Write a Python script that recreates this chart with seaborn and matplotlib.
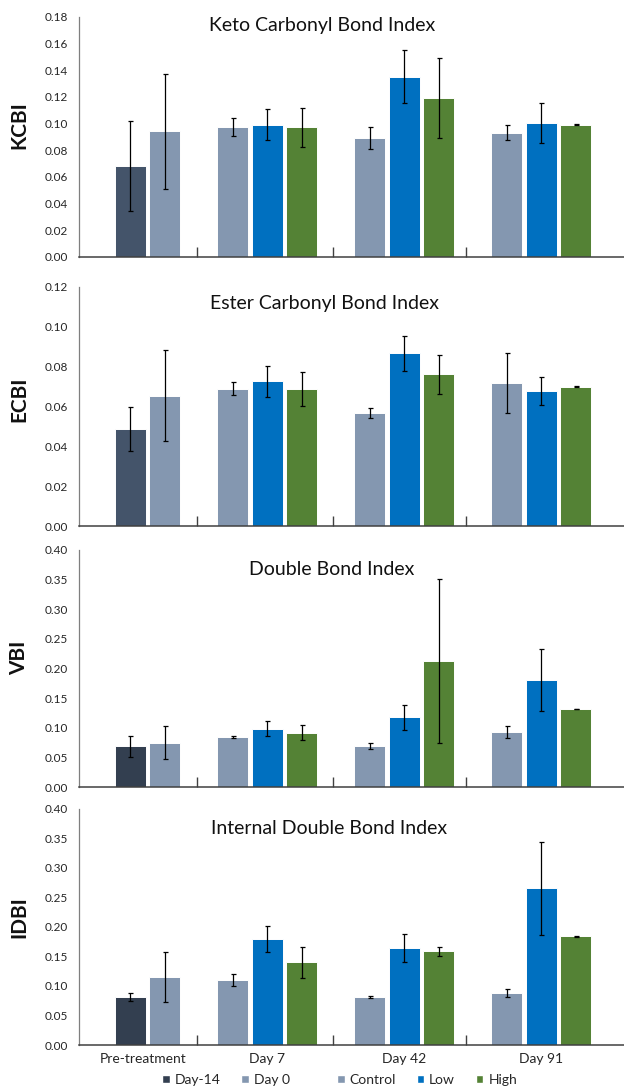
import numpy as np
import matplotlib
matplotlib.use("Agg")
import matplotlib.pyplot as plt
from matplotlib.patches import Patch
from matplotlib.ticker import FormatStrFormatter
import seaborn as sns

# ---------------------------------------------------------------- data
categories = ["Pre-treatment", "Day 7", "Day 42", "Day 91"]
baseline_series = ["Day-14", "Day 0"]          # measured before treatment
treatment_series = ["Control", "Low", "High"]  # Day 7 / Day 42 / Day 91

# Keto carbonyl bond index
kcbi_baseline = [0.068, 0.094]
kcbi_baseline_err = [0.034, 0.043]
kcbi_control = [0.097, 0.089, 0.093]
kcbi_control_err = [0.0068, 0.0085, 0.0057]
kcbi_low = [0.099, 0.135, 0.100]
kcbi_low_err = [0.0115, 0.020, 0.015]
kcbi_high = [0.097, 0.119, 0.099]
kcbi_high_err = [0.0145, 0.030, 0.0005]

# Ester carbonyl bond index
ecbi_baseline = [0.0488, 0.0654]
ecbi_baseline_err = [0.011, 0.023]
ecbi_control = [0.0689, 0.0568, 0.0717]
ecbi_control_err = [0.0033, 0.0024, 0.0152]
ecbi_low = [0.0725, 0.0866, 0.0675]
ecbi_low_err = [0.0078, 0.0089, 0.0070]
ecbi_high = [0.0689, 0.0760, 0.0699]
ecbi_high_err = [0.0085, 0.0097, 0.0003]

# Double (vinyl) bond index
vbi_baseline = [0.069, 0.0753]
vbi_baseline_err = [0.0178, 0.0275]
vbi_control = [0.0843, 0.0691, 0.0927]
vbi_control_err = [0.002, 0.0053, 0.0104]
vbi_low = [0.0989, 0.118, 0.1809]
vbi_low_err = [0.013, 0.021, 0.053]
vbi_high = [0.0921, 0.2129, 0.132]
vbi_high_err = [0.013, 0.138, 0.0005]

# Internal double bond index
idbi_baseline = [0.0812, 0.115]
idbi_baseline_err = [0.0073, 0.042]
idbi_control = [0.110, 0.0817, 0.0885]
idbi_control_err = [0.0105, 0.002, 0.0065]
idbi_low = [0.179, 0.164, 0.2655]
idbi_low_err = [0.022, 0.024, 0.0787]
idbi_high = [0.140, 0.1584, 0.1838]
idbi_high_err = [0.026, 0.0076, 0.0005]

panel_titles = ["Keto Carbonyl Bond Index", "Ester Carbonyl Bond Index",
                "Double Bond Index", "Internal Double Bond Index"]
panel_ylabels = ["KCBI", "ECBI", "VBI", "IDBI"]
panel_ymax = [0.18, 0.12, 0.40, 0.40]
panel_ystep = [0.02, 0.02, 0.05, 0.05]

# ---------------------------------------------------------------- style
sns.set_style("white")
plt.rcParams["font.family"] = ["Lato", "DejaVu Sans"]

C_DAY14_LIGHT = "#44546A"
C_DAY14_DARK = "#333F50"
C_GREY = "#8497B0"
C_LOW = "#0070C0"
C_HIGH = "#548235"

W, H = 624, 1090
fig = plt.figure(figsize=(W / 100, H / 100), dpi=100)

BAR_W = 0.226     # bar width in category units
SLOT = 0.252      # distance between neighbouring bars in a cluster
SEPARATORS = [0.487, 1.478, 2.45]
LABEL_POS = [0.09, 1, 2, 3]

# axes boxes in pixels: (top, bottom)
boxes = [(16.7, 256.7), (286.7, 526.0), (550.0, 787.3), (808.7, 1045.0)]
AX_LEFT = 79
title_px = [(322, 30.7), (324, 309), (332, 575), (329, 834)]
ylabel_py = [125, 399, 658, 917]

panels = [
    (kcbi_baseline, kcbi_baseline_err, kcbi_control, kcbi_control_err,
     kcbi_low, kcbi_low_err, kcbi_high, kcbi_high_err, C_DAY14_LIGHT),
    (ecbi_baseline, ecbi_baseline_err, ecbi_control, ecbi_control_err,
     ecbi_low, ecbi_low_err, ecbi_high, ecbi_high_err, C_DAY14_LIGHT),
    (vbi_baseline, vbi_baseline_err, vbi_control, vbi_control_err,
     vbi_low, vbi_low_err, vbi_high, vbi_high_err, C_DAY14_DARK),
    (idbi_baseline, idbi_baseline_err, idbi_control, idbi_control_err,
     idbi_low, idbi_low_err, idbi_high, idbi_high_err, C_DAY14_DARK),
]


def draw_series(ax, x, y, err, color):
    sns.barplot(x=x, y=y, native_scale=True, width=BAR_W, color=color,
                saturation=1, errorbar=None, edgecolor="white",
                linewidth=0.7, ax=ax, zorder=2)
    ax.errorbar(x, y, yerr=err, fmt="none", ecolor="black",
                elinewidth=0.9, capsize=1.8, capthick=0.9, zorder=5)


treat_idx = np.arange(1, len(categories))

for i, (base, base_e, ctl, ctl_e, low, low_e, high, high_e, c14) in enumerate(panels):
    top, bottom = boxes[i]
    ax = fig.add_axes([AX_LEFT / W, 1 - bottom / H,
                       1 - AX_LEFT / W, (bottom - top) / H])

    # pre-treatment cluster: Day-14 then Day 0
    draw_series(ax, [0.0], [base[0]], [base_e[0]], c14)
    draw_series(ax, [SLOT], [base[1]], [base_e[1]], C_GREY)
    # treatment clusters
    draw_series(ax, list(treat_idx - SLOT), ctl, ctl_e, C_GREY)
    draw_series(ax, list(treat_idx * 1.0), low, low_e, C_LOW)
    draw_series(ax, list(treat_idx + SLOT), high, high_e, C_HIGH)

    ax.set_xlim((AX_LEFT - 130.3) / 137, (W - 130.3) / 137)
    ax.set_ylim(0, panel_ymax[i])
    ax.set_yticks(np.arange(0, panel_ymax[i] + 1e-9, panel_ystep[i]))
    ax.yaxis.set_major_formatter(FormatStrFormatter("%.2f"))
    ax.set_xlabel("")
    ax.set_ylabel("")

    ax.set_xticks(LABEL_POS)
    if i == len(panels) - 1:
        ax.set_xticklabels(categories)
    else:
        ax.set_xticklabels([])
    ax.set_xticks(SEPARATORS, minor=True)
    ax.tick_params(axis="x", which="major", length=0, pad=6,
                   labelsize=10, labelcolor="#262626")
    ax.tick_params(axis="x", which="minor", direction="in", length=7,
                   width=1.0, color="#404040", bottom=True)
    ax.tick_params(axis="y", length=0, pad=8, labelsize=8.5,
                   labelcolor="#262626")

    for side in ("top", "right"):
        ax.spines[side].set_visible(False)
    ax.spines["left"].set_color("#7f7f7f")
    ax.spines["left"].set_linewidth(0.9)
    ax.spines["bottom"].set_color("#404040")
    ax.spines["bottom"].set_linewidth(1.1)
    ax.grid(False)

    tx, ty = title_px[i]
    fig.text(tx / W, 1 - ty / H, panel_titles[i], ha="center",
             va="baseline", fontsize=14, color="#111111")
    fig.text(19 / W, 1 - ylabel_py[i] / H, panel_ylabels[i], rotation=90,
             ha="center", va="center", fontsize=15, fontweight="bold",
             color="#111111")

# legends: baseline days and treatment levels
lg_kw = dict(loc="center", frameon=False, ncol=3, fontsize=10,
             handlelength=0.55, handleheight=0.55, handletextpad=0.35,
             columnspacing=1.5, labelcolor="#262626")
h1 = [Patch(facecolor=C_DAY14_DARK, label=baseline_series[0]),
      Patch(facecolor=C_GREY, label=baseline_series[1])]
h2 = [Patch(facecolor=C_GREY, label=treatment_series[0]),
      Patch(facecolor=C_LOW, label=treatment_series[1]),
      Patch(facecolor=C_HIGH, label=treatment_series[2])]
fig.legend(handles=h1, bbox_to_anchor=(226 / W, 1 - 1080 / H), **{**lg_kw, "ncol": 2})
fig.legend(handles=h2, bbox_to_anchor=(427 / W, 1 - 1080 / H), **lg_kw)

fig.savefig("out.png", dpi=100)
